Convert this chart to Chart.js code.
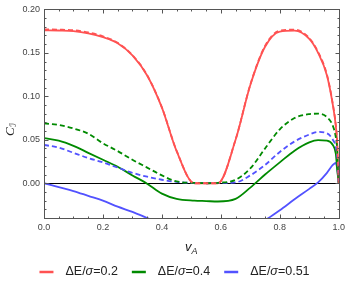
<!DOCTYPE html>
<html>
<head>
<meta charset="utf-8">
<script src="https://cdn.jsdelivr.net/npm/chart.js@4/dist/chart.umd.min.js"></script>
<style>
  body { margin: 0; background: #fff; }
  #wrap { width: 349px; height: 287px; }
</style>
</head>
<body>
<div id="wrap"><canvas id="chart" width="349" height="287"></canvas></div>
<script>
// sample points along v_A (shared by all curves)
const vA = [0, 0.05, 0.1, 0.15, 0.2, 0.25, 0.3, 0.35, 0.4, 0.45, 0.51, 0.55, 0.59, 0.65, 0.7, 0.75, 0.8, 0.85, 0.9, 0.93, 0.96, 0.98, 0.99, 0.995, 1.0];

// ΔE/σ = 0.2
const red = [0.176, 0.1757, 0.175, 0.1725, 0.168, 0.161, 0.147, 0.124, 0.087, 0.037, 0, 0, 0, 0.050, 0.113, 0.157, 0.1745, 0.1755, 0.166, 0.150, 0.124, 0.090, 0.066, 0.045, 0];
const redDash = [0.177, 0.1767, 0.176, 0.1735, 0.169, 0.1615, 0.1475, 0.1243, 0.0873, 0.0373, 0, 0, 0, 0.0503, 0.1135, 0.158, 0.1755, 0.1767, 0.167, 0.151, 0.125, 0.091, 0.067, 0.046, 0];
// ΔE/σ = 0.4
const green = [0.052, 0.049, 0.043, 0.035, 0.027, 0.019, 0.009, -0.0005, -0.012, -0.018, -0.020, -0.0205, -0.021, -0.018, -0.005, 0.010, 0.024, 0.0375, 0.047, 0.0495, 0.049, 0.044, 0.034, 0.015, 0];
const greenDash = [0.069, 0.067, 0.063, 0.057, 0.046, 0.037, 0.027, 0.018, 0.009, 0.002, 0.0005, 0, 0.0005, 0.004, 0.017, 0.040, 0.062, 0.075, 0.0795, 0.080, 0.076, 0.066, 0.053, 0.038, 0];
// ΔE/σ = 0.51
const blue = [0, -0.0045, -0.009, -0.0145, -0.020, -0.027, -0.033, -0.040, -0.047, -0.052, -0.056, -0.058, -0.058, -0.056, -0.052, -0.0425, -0.031, -0.0185, -0.0065, 0.001, 0.012, 0.021, 0.0235, 0.016, 0];
const blueDash = [0.044, 0.041, 0.035, 0.029, 0.024, 0.018, 0.012, 0.0075, 0.004, 0.0015, 0.0003, 0, 0.0003, 0.001, 0.009, 0.021, 0.036, 0.048, 0.056, 0.059, 0.0575, 0.050, 0.042, 0.030, 0];

const xTicks = [0, 0.2, 0.4, 0.6, 0.8, 1.0];
const yTicks = [0, 0.05, 0.1, 0.15, 0.2];
const legendNames = ['0.2', '0.4', '0.51'];

const RED = '#ff5252', GREEN = '#008a00', BLUE = '#5252ff';

function pts(ys) {
  return vA.map((x, i) => ({ x: x, y: ys[i] }));
}
function series(ys, color, dashed) {
  return {
    data: pts(ys),
    borderColor: color,
    borderWidth: 1.8,
    borderDash: dashed ? [5, 3] : [],
    pointRadius: 0,
    fill: false,
    cubicInterpolationMode: 'monotone'
  };
}

// frame, ticks, zero line, axis titles and legend
const decor = {
  id: 'decor',
  beforeDatasetsDraw(chart) {
    const { ctx, chartArea: a, scales } = chart;
    const y0 = Math.round(scales.y.getPixelForValue(0)) + 0.5;
    ctx.save();
    ctx.strokeStyle = '#000';
    ctx.lineWidth = 1;
    ctx.beginPath();
    ctx.moveTo(a.left, y0);
    ctx.lineTo(a.right, y0);
    ctx.stroke();
    ctx.restore();
  },
  afterDraw(chart) {
    const { ctx, chartArea: a, scales } = chart;
    const sx = scales.x, sy = scales.y;
    ctx.save();
    ctx.strokeStyle = '#555';
    ctx.lineWidth = 1;
    const L = Math.round(a.left) + 0.5, R = Math.round(a.right) + 0.5;
    const T = Math.round(a.top) + 0.5, B = Math.round(a.bottom) + 0.5;
    ctx.strokeRect(L, T, R - L, B - T);
    ctx.beginPath();
    // x ticks every 0.05, major every 0.2
    for (let i = 0; i <= 20; i++) {
      const v = i * 0.05;
      const px = Math.round(sx.getPixelForValue(v)) + 0.5;
      const len = i % 4 === 0 ? 4 : 2;
      ctx.moveTo(px, B); ctx.lineTo(px, B - len);
      ctx.moveTo(px, T); ctx.lineTo(px, T + len);
    }
    // y ticks every 0.01, major every 0.05
    for (let i = -4; i <= 20; i++) {
      const v = i * 0.01;
      const py = Math.round(sy.getPixelForValue(v)) + 0.5;
      const len = i % 5 === 0 ? 4 : 2;
      ctx.moveTo(L, py); ctx.lineTo(L + len, py);
      ctx.moveTo(R, py); ctx.lineTo(R - len, py);
    }
    ctx.stroke();

    // x title v_A
    ctx.fillStyle = '#222';
    ctx.textBaseline = 'alphabetic';
    const cx = (a.left + a.right) / 2;
    ctx.font = 'italic 13px "Liberation Sans"';
    const vw = ctx.measureText('v').width;
    ctx.font = 'italic 9px "Liberation Sans"';
    const aw = ctx.measureText('A').width;
    let x0 = cx - (vw + aw) / 2;
    ctx.font = 'italic 13px "Liberation Sans"';
    ctx.fillText('v', x0, 251);
    ctx.font = 'italic 9px "Liberation Sans"';
    ctx.fillText('A', x0 + vw, 254);

    // y title C_I (rotated)
    ctx.save();
    ctx.translate(14, 136);
    ctx.rotate(-Math.PI / 2);
    ctx.font = 'italic 13px "Liberation Serif"';
    ctx.fillText('C', 0, 0);
    const cw = ctx.measureText('C').width;
    ctx.font = '9px "DejaVu Sans"';
    ctx.fillText('\u2110', cw + 0.5, 2);
    ctx.restore();

    // legend
    const colors = [RED, GREEN, BLUE];
    const lineLen = 14, gap = 12, spacing = 14;
    const font = '12.5px "Liberation Sans"', ifont = 'italic 12.5px "Liberation Sans"';
    const widths = legendNames.map(n => {
      ctx.font = font;
      let w = ctx.measureText('\u0394E/').width + ctx.measureText('=' + n).width;
      ctx.font = ifont;
      w += ctx.measureText('\u03c3').width;
      return lineLen + gap + w;
    });
    const total = widths.reduce((s, w) => s + w, 0) + spacing * (widths.length - 1);
    let lx = chart.width / 2 - total / 2;
    const ly = 272;
    ctx.textBaseline = 'middle';
    legendNames.forEach((n, i) => {
      ctx.strokeStyle = colors[i];
      ctx.lineWidth = 2.5;
      ctx.beginPath();
      ctx.moveTo(lx, ly); ctx.lineTo(lx + lineLen, ly);
      ctx.stroke();
      let tx = lx + lineLen + gap;
      ctx.fillStyle = '#222';
      ctx.font = font;
      ctx.fillText('\u0394E/', tx, ly);
      tx += ctx.measureText('\u0394E/').width;
      ctx.font = ifont;
      ctx.fillText('\u03c3', tx, ly);
      tx += ctx.measureText('\u03c3').width;
      ctx.font = font;
      ctx.fillText('=' + n, tx, ly);
      lx += widths[i] + spacing;
    });
    ctx.restore();
  }
};

new Chart(document.getElementById('chart'), {
  type: 'line',
  data: {
    datasets: [
      series(redDash, RED, true),
      series(greenDash, GREEN, true),
      series(blueDash, BLUE, true),
      series(red, RED, false),
      series(green, GREEN, false),
      series(blue, BLUE, false)
    ]
  },
  options: {
    responsive: false,
    animation: false,
    layout: { padding: { top: 7, right: 7, left: 0, bottom: 0 } },
    plugins: { legend: { display: false }, tooltip: { enabled: false } },
    scales: {
      x: {
        type: 'linear',
        min: 0,
        max: 1,
        afterBuildTicks: s => { s.ticks = xTicks.map(v => ({ value: v })); },
        afterFit: s => { s.height = 69; },
        grid: { display: false, drawTicks: false },
        border: { display: false },
        ticks: {
          padding: 4,
          color: '#444',
          font: { family: 'Liberation Sans', size: 9 },
          callback: v => v.toFixed(1)
        }
      },
      y: {
        type: 'linear',
        min: -0.04,
        max: 0.2,
        afterBuildTicks: s => { s.ticks = yTicks.map(v => ({ value: v })); },
        afterFit: s => { s.width = 44; },
        grid: { display: false, drawTicks: false },
        border: { display: false },
        ticks: {
          padding: 4,
          color: '#444',
          font: { family: 'Liberation Sans', size: 9 },
          callback: v => v.toFixed(2)
        }
      }
    }
  },
  plugins: [decor]
});
</script>
</body>
</html>
